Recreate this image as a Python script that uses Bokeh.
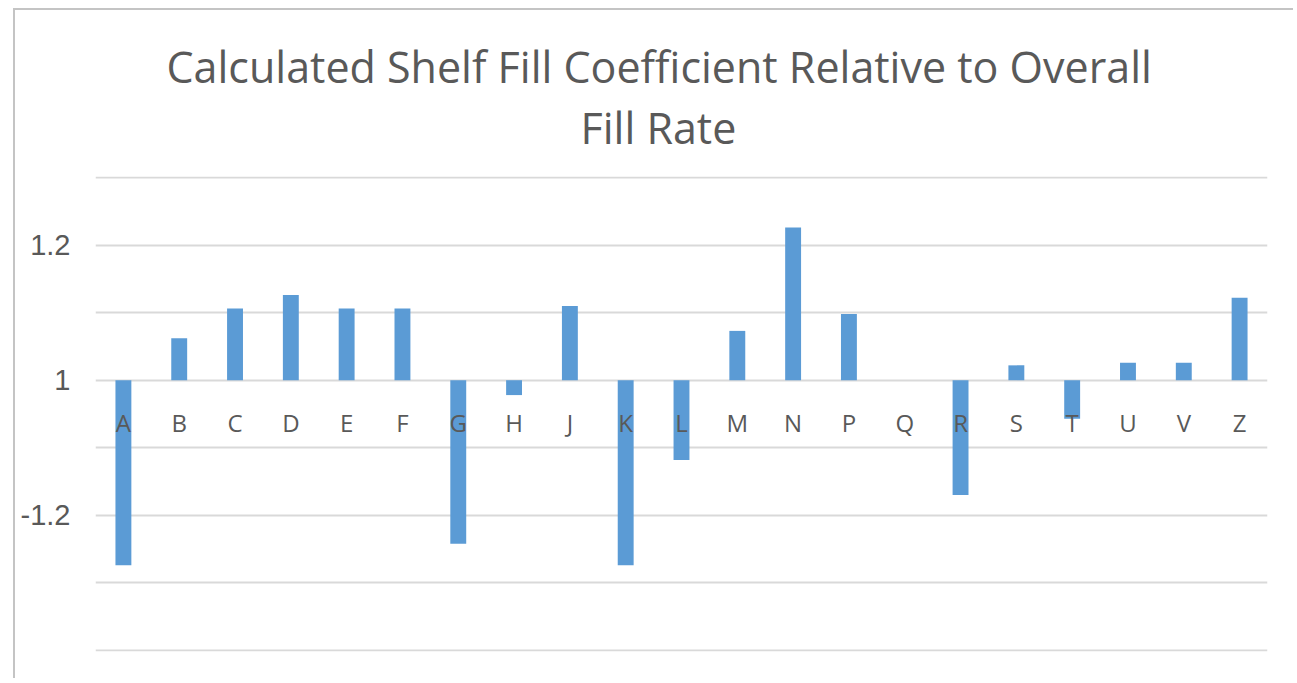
from bokeh.plotting import figure
from bokeh.models import FixedTicker, Range1d, Title, ColumnDataSource
from bokeh.core.properties import value
from bokeh.embed import file_html
from bokeh.resources import INLINE

categories = ["A", "B", "C", "D", "E", "F", "G", "H", "J", "K", "L",
              "M", "N", "P", "Q", "R", "S", "T", "U", "V", "Z"]
values = [-0.274, 0.062, 0.106, 0.126, 0.106, 0.106, -0.242, -0.022, 0.110, -0.274, -0.118,
          0.073, 0.226, 0.098, 0.0, -0.170, 0.022, -0.057, 0.026, 0.026, 0.122]
y_ticks = [-0.4, -0.3, -0.2, -0.1, 0, 0.1, 0.2, 0.3]
tick_labels = {0.2: "1.2", 0: "1", -0.2: "-1.2"}
title_lines = ["Calculated Shelf Fill Coefficient Relative to Overall", "Fill Rate"]

W, H = 1280, 670
p = figure(x_range=categories, y_range=Range1d(-0.4015, 0.3015), width=W, height=H,
           output_backend="svg", toolbar_location=None,
           min_border_left=80, min_border_right=28, min_border_top=166, min_border_bottom=29,
           styles={"border-top": "2px solid #c4c4c4", "border-left": "2px solid #c4c4c4",
                   "margin-left": "13px", "margin-top": "8px"})
p.x_range.range_padding = 0
p.outline_line_color = None
p.background_fill_color = "white"

src = ColumnDataSource(dict(cat=categories, val=values, ly=[-0.063] * len(categories)))
p.vbar(x="cat", top="val", bottom=0, width=0.285, source=src,
       fill_color="#5b9bd5", line_color=None)
p.text(x="cat", y="ly", text="cat", source=src, text_align="center", text_baseline="middle",
       text_font=value("Open Sans"), text_font_size="24px", text_color="#595959")

p.xaxis.visible = False
p.xgrid.visible = False
p.yaxis.ticker = FixedTicker(ticks=y_ticks)
labels = {}
for t in y_ticks:
    labels[t] = tick_labels.get(t, "")
p.yaxis.major_label_overrides = labels
p.yaxis.axis_line_color = None
p.yaxis.major_tick_line_color = None
p.yaxis.minor_tick_line_color = None
p.yaxis.major_label_standoff = 19
p.yaxis.major_label_text_font = "Liberation Sans"
p.yaxis.major_label_text_font_size = "29px"
p.yaxis.major_label_text_color = "#595959"
p.ygrid.grid_line_color = "#d9d9d9"
p.ygrid.grid_line_width = 2

# spacer between the plot area and the second title line
p.add_layout(Title(text=" ", text_font_size="1px", standoff=17), "above")
for line, so, off in zip(reversed(title_lines), [0, 0], [485, 71]):
    p.add_layout(Title(text=line, align="left", offset=off, text_font="Open Sans",
                       text_font_size="43px", text_font_style="normal",
                       text_color="#595959", standoff=so), "above")

open("out.html", "w").write(file_html(p, INLINE))
